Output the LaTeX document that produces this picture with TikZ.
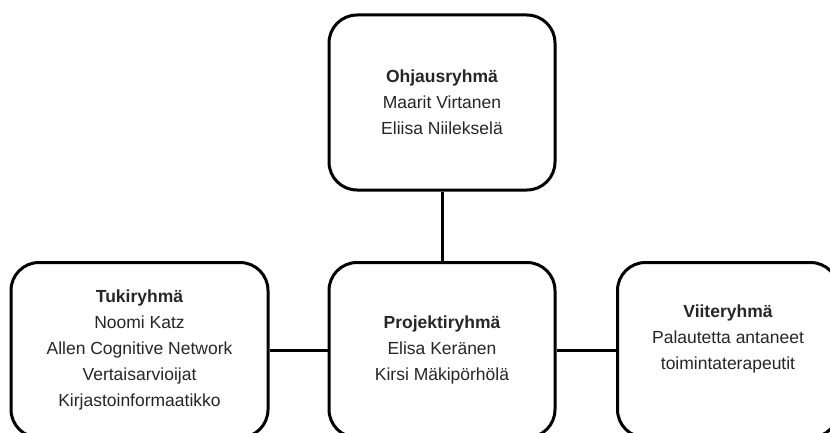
\documentclass[tikz,border=0pt]{standalone}
\usepackage{fontspec}
\setmainfont{Liberation Sans}
\begin{document}
\begin{tikzpicture}[x=1pt,y=-1pt,
  box/.style={draw=black, line width=3pt, rounded corners=28pt, fill=white,
    align=center, text=black!85, inner sep=0pt,
    font=\fontsize{17.5pt}{25.8pt}\selectfont},
  conn/.style={draw=black, line width=3pt}]
\useasboundingbox (0,0) rectangle (830,433);
\clip (0,0) rectangle (830,433);
\node[box, minimum width=226pt, minimum height=175pt] (ohj) at (442,102.5)
  {\textbf{Ohjausryhmä}\\Maarit Virtanen\\Eliisa Niilekselä};
\node[box, minimum width=226pt, minimum height=175pt] (proj) at (442,350)
  {\textbf{Projektiryhmä}\\Elisa Keränen\\Kirsi Mäkipörhölä};
\node[box, minimum width=257pt, minimum height=175pt] (tuki) at (139.5,350)
  {\textbf{Tukiryhmä}\\Noomi Katz\\Allen Cognitive Network\\Vertaisarvioijat\\Kirjastoinformaatikko};
\node[box, minimum width=221pt, minimum height=175pt] (viite) at (728,350)
  {\textbf{Viiteryhmä}\\Palautetta antaneet\\toimintaterapeutit\\\mbox{}};
\draw[conn] (ohj.south) -- (proj.north);
\draw[conn] (tuki.east) -- (proj.west);
\draw[conn] (proj.east) -- (viite.west);
\end{tikzpicture}
\end{document}
